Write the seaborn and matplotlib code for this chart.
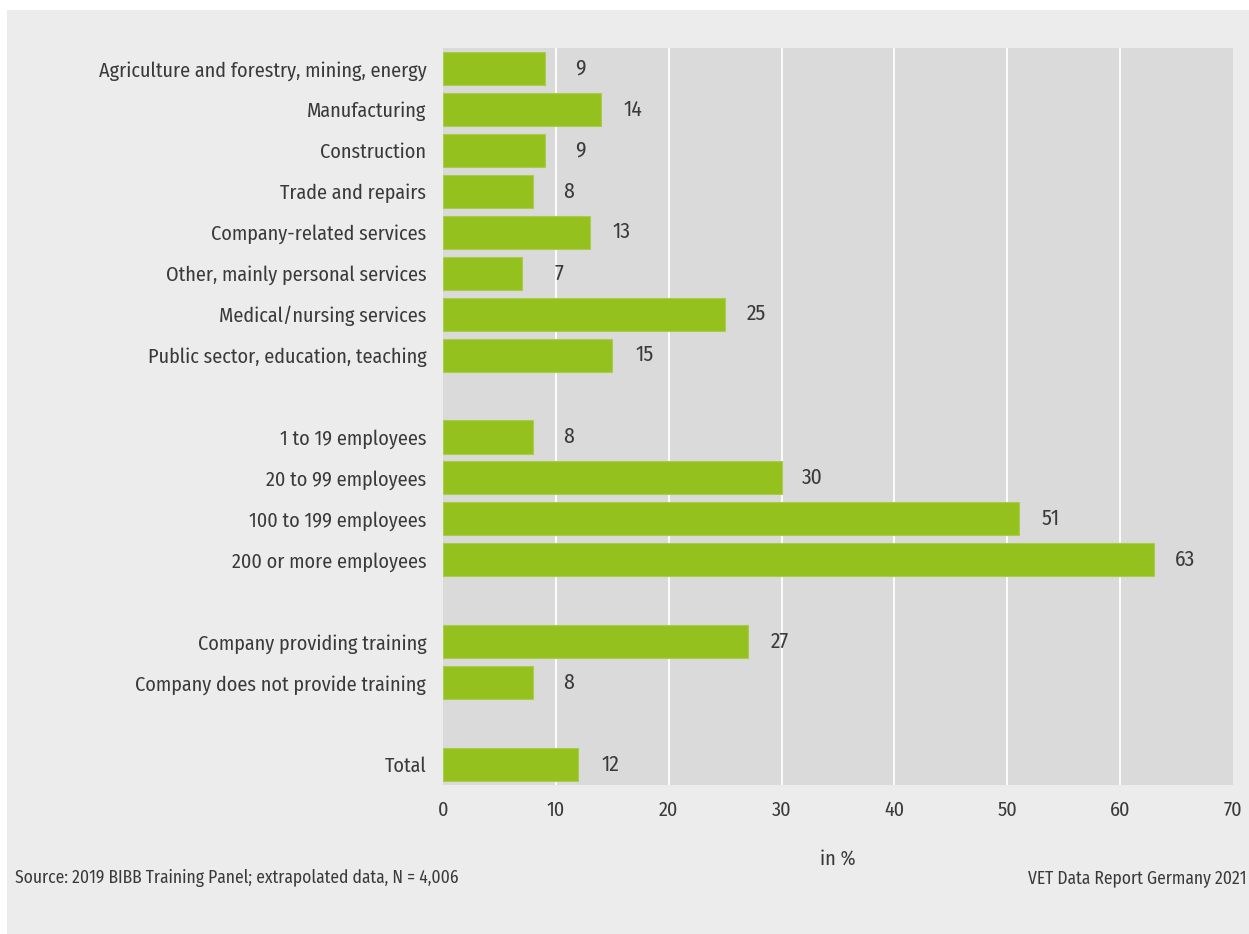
import matplotlib
matplotlib.use("Agg")
import matplotlib.pyplot as plt
from matplotlib import font_manager
from matplotlib.patches import Rectangle
import pandas as pd
import seaborn as sns

# Share of companies (in %), by sector, company size and training participation
sectors = [
    "Agriculture and forestry, mining, energy",
    "Manufacturing",
    "Construction",
    "Trade and repairs",
    "Company-related services",
    "Other, mainly personal services",
    "Medical/nursing services",
    "Public sector, education, teaching",
]
sector_values = [9, 14, 9, 8, 13, 7, 25, 15]

sizes = [
    "1 to 19 employees",
    "20 to 99 employees",
    "100 to 199 employees",
    "200 or more employees",
]
size_values = [8, 30, 51, 63]

training = [
    "Company providing training",
    "Company does not provide training",
]
training_values = [27, 8]

total_label = ["Total"]
total_values = [12]

x_ticks = [0, 10, 20, 30, 40, 50, 60, 70]
x_label = "in %"
source_note = "Source: 2019 BIBB Training Panel; extrapolated data, N = 4,006"
publication = "VET Data Report Germany 2021"

# Row order with empty spacer rows between the groups
order = sectors + [""] + sizes + [" "] + training + ["  "] + total_label
df = pd.DataFrame({
    "label": sectors + sizes + training + total_label,
    "share": sector_values + size_values + training_values + total_values,
})

installed = {f.name for f in font_manager.fontManager.ttflist}
family = next((f for f in ["Fira Sans Condensed", "Barlow Semi Condensed",
                           "Archivo Narrow", "Liberation Sans Narrow", "DejaVu Sans"]
               if f in installed), "DejaVu Sans")

sns.set_theme(style="white")
plt.rcParams["font.family"] = [family, "DejaVu Sans"]
plt.rcParams["font.weight"] = "normal"

TEXT = "#3a3a3a"
GREEN = "#95c11f"
W, H = 1249, 934

fig = plt.figure(figsize=(W / 100, H / 100), dpi=100, facecolor="white")
fig.patches.append(Rectangle((7 / W, 0), 1, 1 - 10 / H, transform=fig.transFigure,
                             facecolor="#ececec", edgecolor="none", zorder=-10))

ax = fig.add_axes([443 / W, 1 - 785 / H, (1233 - 443) / W, (785 - 48) / H])
ax.set_facecolor("#dadada")

sns.barplot(data=df, x="share", y="label", order=order, color=GREEN,
            saturation=1, width=0.81, edgecolor="#a8cd4a", linewidth=0.8, ax=ax)

ax.set_xlim(0, 70)
ax.set_ylim(len(order) - 0.5, -0.5)
ax.set_xticks(x_ticks)
ax.set_axisbelow(True)
for v in x_ticks[1:-1]:
    ax.axvline(v, color="white", lw=1.3, zorder=0.5)
for s in ax.spines.values():
    s.set_visible(False)

ax.tick_params(axis="both", length=0, labelcolor=TEXT, labelsize=14.5)
ax.tick_params(axis="y", pad=12)
ax.tick_params(axis="x", pad=11)
ax.set_ylabel("")
ax.set_xlabel(x_label, fontsize=14.5, color=TEXT, labelpad=21)

# Value labels, right-aligned a fixed distance past the bar end
for container in ax.containers:
    for bar in container:
        w = bar.get_width()
        if w != w:
            continue
        ax.annotate(f"{w:.0f}", xy=(w, bar.get_y() + bar.get_height() / 2),
                    xytext=(29.5, 0), textcoords="offset points",
                    ha="right", va="center", fontsize=15.5, color=TEXT)

fig.text(15 / W, 1 - 878 / H, source_note, fontsize=12.6, color=TEXT, va="center", ha="left")
fig.text(1246 / W, 1 - 878 / H, publication, fontsize=12.6, color=TEXT, va="center", ha="right")

fig.savefig("out.png", dpi=100, facecolor=fig.get_facecolor())
